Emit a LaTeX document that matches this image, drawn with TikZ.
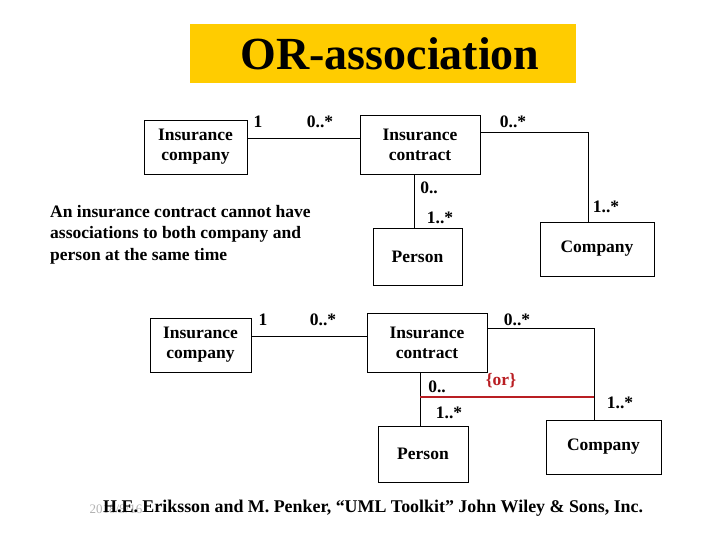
\documentclass[tikz,border=0pt]{standalone}
\usepackage{fontspec}
\setmainfont{Liberation Serif}
\usepackage{tikz}
\usetikzlibrary{positioning}
\definecolor{titlegold}{RGB}{255,204,0}
\definecolor{orred}{RGB}{185,30,35}

\begin{document}
\begin{tikzpicture}[
    x=1pt, y=-1pt,
    font=\bfseries\fontsize{17.5}{20}\selectfont,
    cls/.style={draw=black, line width=0.8pt, align=center, inner sep=0pt},
    mult/.style={inner sep=0pt},
    assoc/.style={draw=black, line width=0.8pt},
  ]
    \useasboundingbox (0,0) rectangle (720,540);

    \node[fill=titlegold, minimum width=386pt, minimum height=59pt] (title) at (383,53.5) {};
    \node[font=\bfseries\fontsize{46}{50}\selectfont, inner sep=0pt] (titletext) at (390,54) {OR-association};

    % upper diagram
    \node[cls, minimum width=103pt, minimum height=54pt] (comp1) at (195.5,147) {Insurance\\company};
    \node[cls, minimum width=120pt, minimum height=59pt] (contr1) at (420,144.5) {Insurance\\contract};
    \node[cls, minimum width=89pt, minimum height=57pt] (pers1) at (417.5,256.5) {Person};
    \node[cls, minimum width=114pt, minimum height=54pt] (firm1) at (597,249) {Company};

    \draw[assoc] ([yshift=9pt]comp1.east) -- ([yshift=6.5pt]contr1.west);
    \draw[assoc] ([yshift=12.5pt]contr1.east) -| ([xshift=-9pt]firm1.north);
    \draw[assoc] ([xshift=-6pt]contr1.south) -- ([xshift=-6pt]contr1.south |- pers1.north);

    \foreach \n/\x/\y/\lab in {m1/258/122/{1}, m2/320/122/{0..*}, m3/513/122/{0..*},
        m4/429/188/{0..}, m5/440/218/{1..*}, m6/606/207/{1..*}}
      \node[mult] (\n) at (\x,\y) {\lab};

    \node[align=left, anchor=north west, inner sep=0pt,
      font=\bfseries\fontsize{17.5}{21.5}\selectfont] (note) at (50,205)
      {An insurance contract cannot have\\associations to both company and\\person at the same time};

    % lower diagram
    \node[cls, minimum width=101pt, minimum height=54pt] (comp2) at (200.5,345) {Insurance\\company};
    \node[cls, minimum width=120pt, minimum height=59pt] (contr2) at (427,342.5) {Insurance\\contract};
    \node[cls, minimum width=90pt, minimum height=56pt] (pers2) at (423,454) {Person};
    \node[cls, minimum width=115pt, minimum height=54pt] (firm2) at (603.5,447) {Company};

    \draw[assoc] ([yshift=9pt]comp2.east) -- ([yshift=6.5pt]contr2.west);
    \draw[assoc] ([yshift=14.5pt]contr2.east) -| ([xshift=-9.5pt]firm2.north);
    \draw[assoc] ([xshift=-7pt]contr2.south) -- ([xshift=-7pt]contr2.south |- pers2.north);

    \coordinate (orA) at (420,397);
    \coordinate (orB) at (594,397);
    \draw[orred, line width=1.1pt] (orA) -- (orB);
    \node[mult, text=orred] (orlab) at (501,381) {\{or\}};

    \foreach \n/\x/\y/\lab in {n1/263/320/{1}, n2/323/320/{0..*}, n3/517/320/{0..*},
        n4/437/387/{0..}, n5/449/413/{1..*}, n6/620/403/{1..*}}
      \node[mult] (\n) at (\x,\y) {\lab};

    % footer
    \node[text=black!30, font=\fontsize{13}{15}\selectfont, anchor=west] (date) at (86,509) {2018/8/16};
    \node[anchor=west, inner sep=0pt, font=\bfseries\fontsize{17.9}{21}\selectfont] (source) at (103,508)
      {H.E. Eriksson and M. Penker, “UML Toolkit” John Wiley \& Sons, Inc.};
  \end{tikzpicture}
\end{document}
